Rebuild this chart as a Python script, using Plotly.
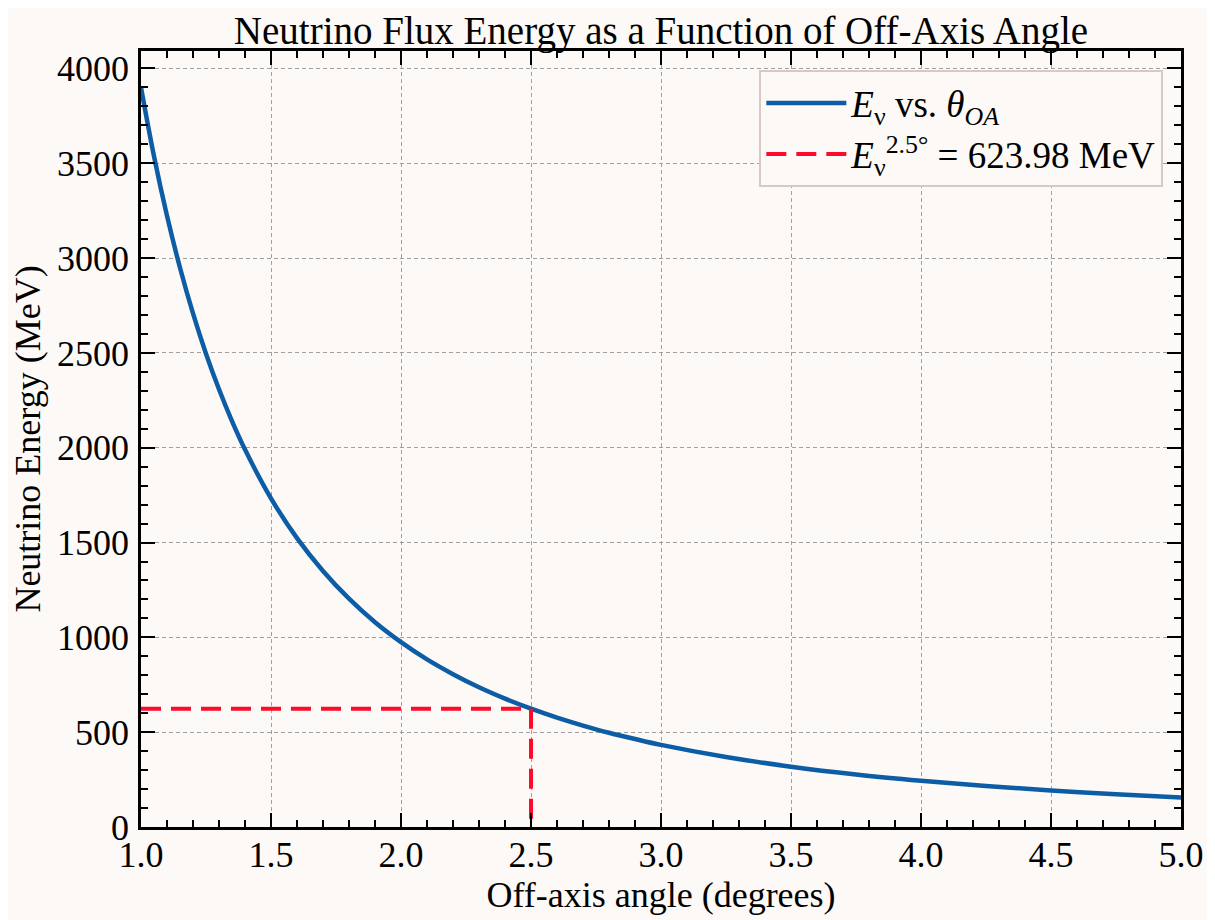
import plotly.graph_objects as go

# Data
theta = [1.0, 1.05, 1.1, 1.15, 1.2, 1.25, 1.3, 1.35, 1.4, 1.5, 1.6, 1.7, 1.8, 1.9, 2.0,
         2.1, 2.2, 2.3, 2.4, 2.5, 2.6, 2.7, 2.8, 2.9, 3.0, 3.25, 3.5, 3.75, 4.0, 4.25,
         4.5, 4.75, 5.0]
energy = [3900, 3537, 3223, 2949, 2708, 2496, 2308, 2140, 1990, 1733, 1523, 1350, 1204,
          1080, 975, 884, 806, 737, 677, 624, 577, 535, 497, 464, 433, 369, 318, 277,
          244, 216, 193, 173, 156]
ref_angle = 2.5
ref_energy = 623.98

BG = "#fdf9f6"
FONT = "Liberation Serif"

fig = go.Figure()
fig.add_trace(go.Scatter(
    x=theta, y=energy, mode="lines", line=dict(color="#0C5DA5", width=4.5, shape="spline"),
    name="<i>E</i><sub>ν</sub> vs. <i>θ</i><sub><i>OA</i></sub>"))
fig.add_trace(go.Scatter(
    x=[theta[0], ref_angle, ref_angle], y=[ref_energy, ref_energy, 0], mode="lines",
    line=dict(color="#ff0a2a", width=4, dash="20px,10px"),
    name="<i>E</i><sub>ν</sub><sup>2.5°</sup> = 623.98 MeV"))

axis_common = dict(
    showline=True, linecolor="black", linewidth=2.5, mirror="allticks",
    ticks="inside", ticklen=14, tickwidth=2, tickcolor="black",
    showgrid=True, gridcolor="#a0a0a0", griddash="4px,3px", gridwidth=1,
    zeroline=False, automargin=False,
    tickfont=dict(family=FONT, size=36, color="black"),
)

fig.update_xaxes(
    range=[1, 5], dtick=0.5, tick0=1, tickformat=".1f", ticklabelstandoff=-6,
    minor=dict(ticks="inside", ticklen=7, tickwidth=1.5, tickcolor="black", dtick=0.1, showgrid=False),
    title=dict(text="Off-axis angle (degrees)", font=dict(family=FONT, size=36, color="black"), standoff=0),
    **axis_common)
fig.update_yaxes(
    range=[0, 4092], dtick=500, tick0=0, ticklabelstandoff=2,
    minor=dict(ticks="inside", ticklen=7, tickwidth=1.5, tickcolor="black", dtick=100, showgrid=False),
    title=dict(text="Neutrino Energy (MeV)", font=dict(family=FONT, size=36, color="black"), standoff=6),
    **axis_common)

# the page body has an 8px margin, so the figure is shrunk by that amount
fig.update_layout(
    width=1207, height=912,
    margin=dict(l=133, r=34, t=43, b=93),
    paper_bgcolor=BG, plot_bgcolor=BG,
    title=dict(text="Neutrino Flux Energy as a Function of Off-Axis Angle",
               font=dict(family=FONT, size=39, color="black"),
               x=0.5, xref="paper", xanchor="center", y=0.975, yanchor="middle"),
    legend=dict(x=0.983, y=0.975, xanchor="right", yanchor="top",
                bgcolor=BG, bordercolor="#d8c8c6", borderwidth=2,
                font=dict(family=FONT, size=37, color="black"),
                itemwidth=80, tracegroupgap=6),
    showlegend=True,
)

fig.write_html("out.html")
